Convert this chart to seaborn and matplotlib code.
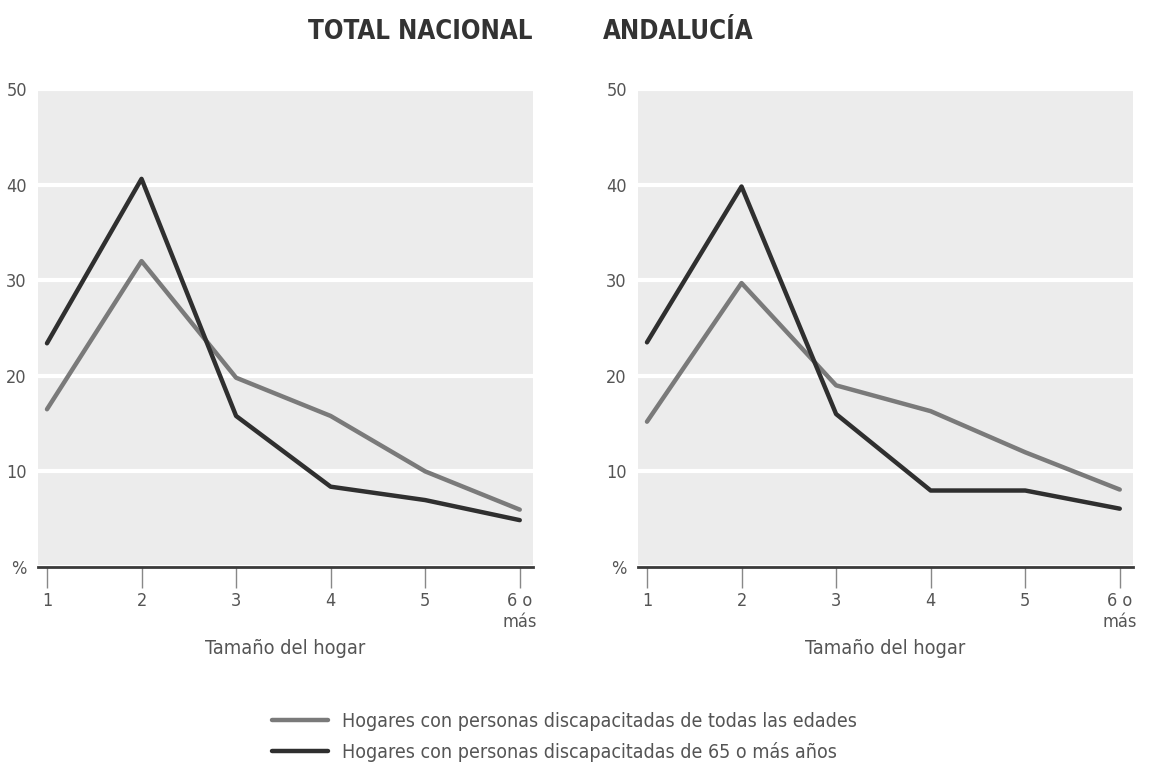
import matplotlib
matplotlib.use("Agg")
import matplotlib.pyplot as plt
import seaborn as sns
import pandas as pd

# Datos (% de hogares segun tamaño del hogar)
tamanos = [1, 2, 3, 4, 5, 6]
etiquetas_x = ["1", "2", "3", "4", "5", "6 o\nmás"]

nacional_todas = [16.5, 32.0, 19.8, 15.8, 10.0, 6.0]
nacional_65 = [23.4, 40.6, 15.8, 8.4, 7.0, 4.9]
andalucia_todas = [15.2, 29.7, 19.0, 16.3, 12.0, 8.1]
andalucia_65 = [23.5, 39.8, 16.0, 8.0, 8.0, 6.1]

titulos = ["TOTAL NACIONAL", "ANDALUCÍA"]
serie_todas = "Hogares con personas discapacitadas de todas las edades"
serie_65 = "Hogares con personas discapacitadas de 65 o más años"

sns.set_theme(style="white")
plt.rcParams["font.family"] = ["DejaVu Sans"]
plt.rcParams["font.stretch"] = "condensed"

gris_claro = "#7a7a7a"
gris_oscuro = "#2f2f2f"
texto = "#555555"

fig = plt.figure(figsize=(11.49, 7.69), dpi=100)
ax1 = fig.add_axes([38 / 1149, 1 - 567 / 769, 495 / 1149, 478 / 769])
ax2 = fig.add_axes([638 / 1149, 1 - 567 / 769, 495 / 1149, 478 / 769])

datos = [(ax1, nacional_todas, nacional_65), (ax2, andalucia_todas, andalucia_65)]

for ax, todas, mayores in datos:
    ax.set_facecolor("#ececec")
    df = pd.DataFrame({"tamano": tamanos, "todas": todas, "mayores": mayores})
    sns.lineplot(data=df, x="tamano", y="todas", ax=ax, color=gris_claro, lw=3.2)
    sns.lineplot(data=df, x="tamano", y="mayores", ax=ax, color=gris_oscuro, lw=3.2)
    ax.set_xlim(0.905, 6.14)
    ax.set_ylim(0, 50)
    ax.set_yticks([0, 10, 20, 30, 40, 50])
    ax.set_yticklabels(["%", "10", "20", "30", "40", "50"])
    ax.set_xticks(tamanos)
    ax.set_xticklabels(etiquetas_x)
    ax.yaxis.grid(True, color="white", lw=3)
    ax.xaxis.grid(False)
    ax.set_axisbelow(True)
    for s in ["top", "right", "left"]:
        ax.spines[s].set_visible(False)
    ax.spines["bottom"].set_color("#3a3a3a")
    ax.spines["bottom"].set_linewidth(2)
    ax.tick_params(axis="x", direction="out", length=15, width=1, color="#888888",
                   labelsize=13, labelcolor=texto, pad=3, bottom=True)
    ax.tick_params(axis="y", length=0, labelsize=13, labelcolor=texto, pad=8)
    ax.set_xlabel("Tamaño del hogar", fontsize=14.3, color=texto, labelpad=6)
    ax.set_ylabel("")

fig.text(420 / 1149, 1 - 32 / 769, titulos[0], ha="center", va="center",
         fontsize=18.5, color="#333333", fontweight="bold")
fig.text(678 / 1149, 1 - 32 / 769, titulos[1], ha="center", va="center",
         fontsize=18.5, color="#333333", fontweight="bold")

h1 = ax1.lines[0]
h2 = ax1.lines[1]
fig.legend([h1, h2], [serie_todas, serie_65], loc="center left",
           bbox_to_anchor=(254 / 1149, 1 - 737 / 769), frameon=False,
           fontsize=14, labelcolor=texto, handlelength=2.9, handletextpad=0.7,
           labelspacing=0.55)

fig.savefig("out.png", dpi=100)
